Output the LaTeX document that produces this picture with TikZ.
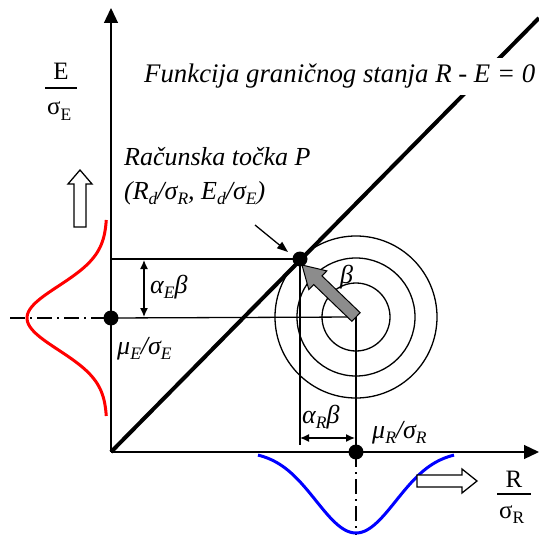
\documentclass[tikz,border=0pt]{standalone}
\usepackage{fontspec}
\setmainfont{Liberation Serif}
\usetikzlibrary{arrows.meta,calc}
\newcommand{\lowidx}[1]{\raisebox{-.22em}{\fontsize{17.5}{17.5}\selectfont #1}}
\begin{document}
\begin{tikzpicture}[x=1pt,y=-1pt,
		axis/.style={line width=1.3pt,-{Triangle[length=15pt,width=14pt]}},
		thinline/.style={line width=1.3pt},
		dimarrow/.style={line width=1.3pt,{Latex[length=9pt,width=8pt]}-{Latex[length=9pt,width=8pt]}},
		dot/.style={circle,fill=black,inner sep=0pt,minimum size=15pt},
		centreline/.style={line width=1.2pt,dash pattern=on 15pt off 5pt on 2pt off 5pt},
		hollowarrow/.style={draw=black,line width=1.3pt,fill=white},
		lbl/.style={inner sep=0pt,anchor=base west,font=\fontsize{26}{30}\selectfont\itshape},
		uplbl/.style={inner sep=0pt,anchor=base,font=\fontsize{25}{30}\selectfont}]
		\useasboundingbox (0,0) rectangle (539,535);
		% key points
		\coordinate (O) at (111,452);
		\coordinate (C) at (356,317);
		\coordinate (Pt) at (300,259);
		\coordinate (mE) at (111,318);
		\coordinate (mR) at (356,452);
		\coordinate (ytip) at (111,8);
		\coordinate (xtip) at (539,452);
		\coordinate (lsend) at (539,18);
		% circles round the mean point
		\draw [thinline] (C) circle (81pt);
		\draw [thinline] (C) circle (59pt);
		\draw [thinline] (C) circle (34pt);
		% axes
		\draw [axis] (O) -- (ytip);
		\draw [axis] (O) -- (xtip);
		% limit state line
		\draw [line width=4pt] (O) -- (lsend);
		% construction lines
		\draw [thinline] (Pt) -- (Pt -| O);
		\draw [thinline] (Pt) -- (300,445);
		\draw [thinline] (mE) -- (C);
		\draw [thinline] (C) -- (mR);
		\draw [centreline] (10,318) -- (mE);
		\draw [centreline] (mR) -- (356,535);
		% distributions
		\draw [red, line width=3pt] plot[domain=-98:98, samples=80, smooth] ({107-80*exp(-0.5*(\x/32)*(\x/32))}, {318+\x});
		\draw [blue, line width=3pt] plot[domain=-98:98, samples=80, smooth] ({356+\x}, {451+82*exp(-0.5*(\x/40)*(\x/40))});
		% hollow direction arrows
		\draw [hollowarrow] (74,227) -- (74,184) -- (68,184) -- (80,170) -- (92,184) -- (86,184) -- (86,227) -- cycle;
		\draw [hollowarrow] (417,475) -- (462,475) -- (462,469) -- (477,481) -- (462,493) -- (462,487) -- (417,487) -- cycle;
		% beta vector
		\coordinate (tip) at (302,265);
		\coordinate (hb) at ($(tip)!22pt!(C)$);
		\filldraw [fill=black!45, line width=1pt] ($(C)!6pt!90:(tip)$) -- ($(hb)!6pt!90:(tip)$) -- ($(hb)!13pt!90:(tip)$) -- (tip) -- ($(hb)!13pt!-90:(tip)$) -- ($(hb)!6pt!-90:(tip)$) -- ($(C)!6pt!-90:(tip)$) -- cycle;
		% dimension arrows
		\draw [dimarrow] (144,260) -- (144,317);
		\draw [dimarrow] (300,438) -- (355,438);
		% pointer to P
		\coordinate (ptrstart) at (255,225);
		\coordinate (ptrend) at (288,252);
		\draw [thinline, -{Triangle[length=11pt,width=8pt]}] (ptrstart) -- (ptrend);
		% dots
		\node [dot] (P) at (Pt) {};
		\node [dot] (muE) at (mE) {};
		\node [dot] (muR) at (mR) {};
		% labels
		\node [lbl, font=\fontsize{26.8}{30}\selectfont\itshape, fill=white, inner xsep=2pt, inner ysep=6pt] (lsf) at (142,83) {Funkcija graničnog stanja R - E = 0};
		\node [lbl] (calc1) at (124,165) {Računska točka P};
		\node [lbl] (calc2) at (124,199) {(R\lowidx{d}/σ\lowidx{R}, E\lowidx{d}/σ\lowidx{E})};
		\node [lbl] (aE) at (150,293) {α\lowidx{E}β};
		\node [lbl] (mEl) at (117,354) {μ\lowidx{E}/σ\lowidx{E}};
		\node [lbl] (aR) at (302,423) {α\lowidx{R}β};
		\node [lbl] (mRl) at (372,438) {μ\lowidx{R}/σ\lowidx{R}};
		\node [lbl] (bl) at (340,283) {β};
		\node [uplbl] (Enum) at (61,80) {E};
		\node [uplbl, anchor=base west] (Eden) at (47,115) {σ\lowidx{E}};
		\draw [thinline] (45,88) -- (77,88);
		\node [uplbl] (Rnum) at (514,487) {R};
		\node [uplbl, anchor=base west] (Rden) at (499,518) {σ\lowidx{R}};
		\draw [thinline] (497,494) -- (531,494);
	\end{tikzpicture}
\end{document}
